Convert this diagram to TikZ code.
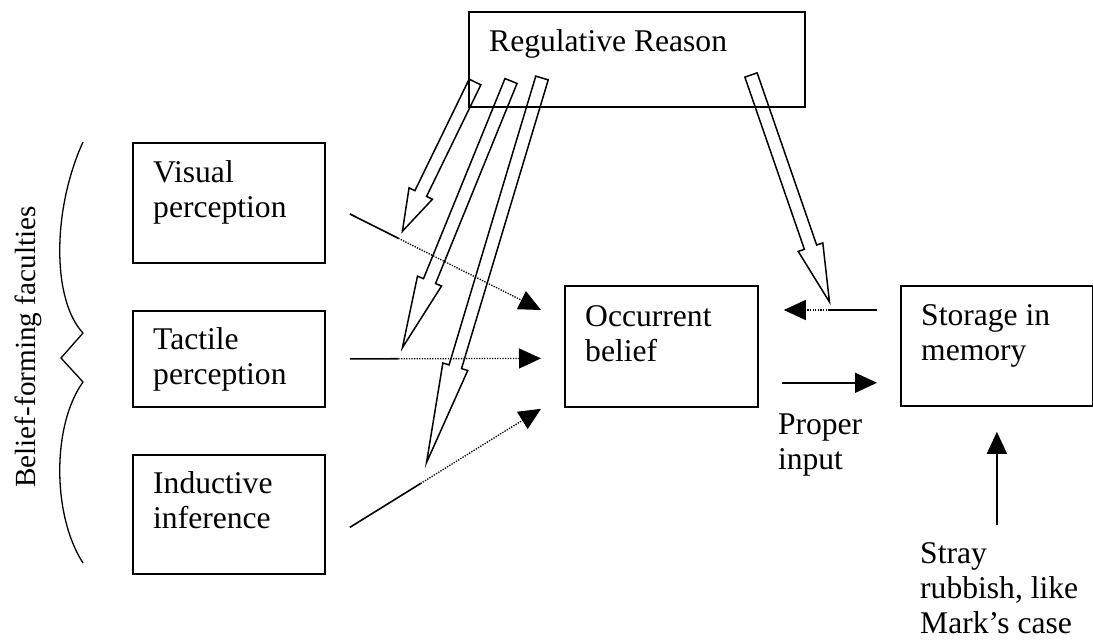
\documentclass[tikz,border=0pt]{standalone}
\usepackage{fontspec}
\setmainfont{Liberation Serif}
\usetikzlibrary{arrows.meta,calc,positioning}

\tikzset{
  faculty/.style={draw, line width=1.8pt, anchor=north west, inner sep=0pt},
  boxtext/.style={anchor=base west, inner sep=0pt, align=left},
  plain/.style={line width=1.6pt},
  feed/.style={line width=1.6pt, -{Triangle[length=22pt,width=20pt]}},
  weak/.style={line width=1.3pt, dash pattern=on 1.3pt off 1.3pt, -{Triangle[length=22pt,width=20pt]}},
  regulate/.style={line width=1.5pt, line join=miter},
}

% hollow block arrow: tail, tip, head length
\newcommand{\regarrow}[3]{%
  \coordinate (hb) at ($(#2)!#3!(#1)$);
  \draw[regulate]
    ($(#1)!6.5pt!90:(#2)$) -- ($(hb)!6.5pt!90:(#2)$) -- ($(hb)!13pt!90:(#2)$) -- (#2)
    -- ($(hb)!13pt!-90:(#2)$) -- ($(hb)!6.5pt!-90:(#2)$) -- ($(#1)!6.5pt!-90:(#2)$) -- cycle;
}

\begin{document}
\begin{tikzpicture}[x=1pt,y=-1pt, every node/.style={font=\fontsize{31.6}{35}\selectfont}]
  \useasboundingbox (0,0) rectangle (1093,643);

  % boxes
  \node[faculty, minimum width=336pt, minimum height=95pt] (reg) at (468,11) {};
  \node[faculty, minimum width=192pt, minimum height=120pt] (visual) at (132,142) {};
  \node[faculty, minimum width=192pt, minimum height=96pt] (tactile) at (132,310) {};
  \node[faculty, minimum width=192pt, minimum height=119pt] (inductive) at (132,454) {};
  \node[faculty, minimum width=193pt, minimum height=121pt] (occ) at (564,285) {};
  \node[faculty, minimum width=192pt, minimum height=120pt] (store) at (900,285) {};

  % texts (base = last line)
  \node[boxtext] (regtxt) at ($(reg.north west)+(21,40)$) {Regulative Reason};
  \node[boxtext] (vistxt) at ($(visual.north west)+(21,75)$) {Visual\\perception};
  \node[boxtext] (tactxt) at ($(tactile.north west)+(21,74)$) {Tactile\\perception};
  \node[boxtext] (indtxt) at ($(inductive.north west)+(21,74)$) {Inductive\\inference};
  \node[boxtext] (occtxt) at ($(occ.north west)+(21,76)$) {Occurrent\\belief};
  \node[boxtext] (storetxt) at ($(store.north west)+(21,75)$) {Storage in\\memory};
  \node[boxtext] (proper) at ($(occ.south east)+(19,62)$) {Proper\\input};
  \node[boxtext] (stray) at (920,633) {Stray\\rubbish, like\\Mark’s case};
  \node[rotate=90, anchor=base, inner sep=0pt, font=\fontsize{29.2}{33}\selectfont] (faculties) at (35,347) {Belief-forming faculties};

  % brace
  \draw[line width=1.3pt] (83,142) .. controls (52,210) and (52,300) .. (83,333) -- (61,358) -- (83,382)
    .. controls (52,425) and (52,515) .. (83,563);

  % inputs to occurrent belief
  \coordinate (vis-out) at ($(visual.east)+(24,11)$);
  \coordinate (tac-out) at ($(tactile.east)+(24,0)$);
  \coordinate (ind-out) at ($(inductive.east)+(24,13)$);
  \coordinate (occ-in1) at ($(occ.north west)+(-23,25)$);
  \coordinate (occ-in2) at ($(occ.west)+(-23,12)$);
  \coordinate (occ-in3) at ($(occ.south west)+(-23,1)$);
  \coordinate (vis-cut) at ($(vis-out)!0.254!(occ-in1)$);
  \coordinate (tac-cut) at ($(tac-out)!0.254!(occ-in2)$);
  \coordinate (ind-cut) at ($(ind-out)!0.37!(occ-in3)$);
  \draw[plain] (vis-out) -- (vis-cut);
  \draw[weak] (vis-cut) -- (occ-in1);
  \draw[plain] (tac-out) -- (tac-cut);
  \draw[weak] (tac-cut) -- (occ-in2);
  \draw[plain] (ind-out) -- (ind-cut);
  \draw[weak] (ind-cut) -- (occ-in3);

  % memory
  \coordinate (store-out) at ($(store.north west)+(-23,25)$);
  \coordinate (occ-back) at ($(occ.north east)+(25,25)$);
  \coordinate (back-cut) at ($(store-out)!0.51!(occ-back)$);
  \draw[plain] (store-out) -- (back-cut);
  \draw[weak] (back-cut) -- (occ-back);
  \draw[feed] ($(occ.south east)+(23,-25)$) -- ($(store.south west)+(-23,-24)$);
  \draw[feed, shorten <=17pt, shorten >=25pt] (stray.north -| store.south) -- (store.south);

  % regulative reason
  \coordinate (ta) at ($(reg.north west)+(7,71)$);
  \coordinate (tb) at ($(reg.north west)+(43,70)$);
  \coordinate (tc) at ($(reg.north west)+(74,67)$);
  \coordinate (td) at ($(reg.north west)+(283,64)$);
  \regarrow{ta}{$(vis-cut)+(4,-7)$}{42pt}
  \regarrow{tb}{$(tac-cut)+(4,-11)$}{72pt}
  \regarrow{tc}{$(ind-cut)+(6,-21)$}{100pt}
  \regarrow{td}{$(back-cut)+(0,-8)$}{58pt}
\end{tikzpicture}
\end{document}
